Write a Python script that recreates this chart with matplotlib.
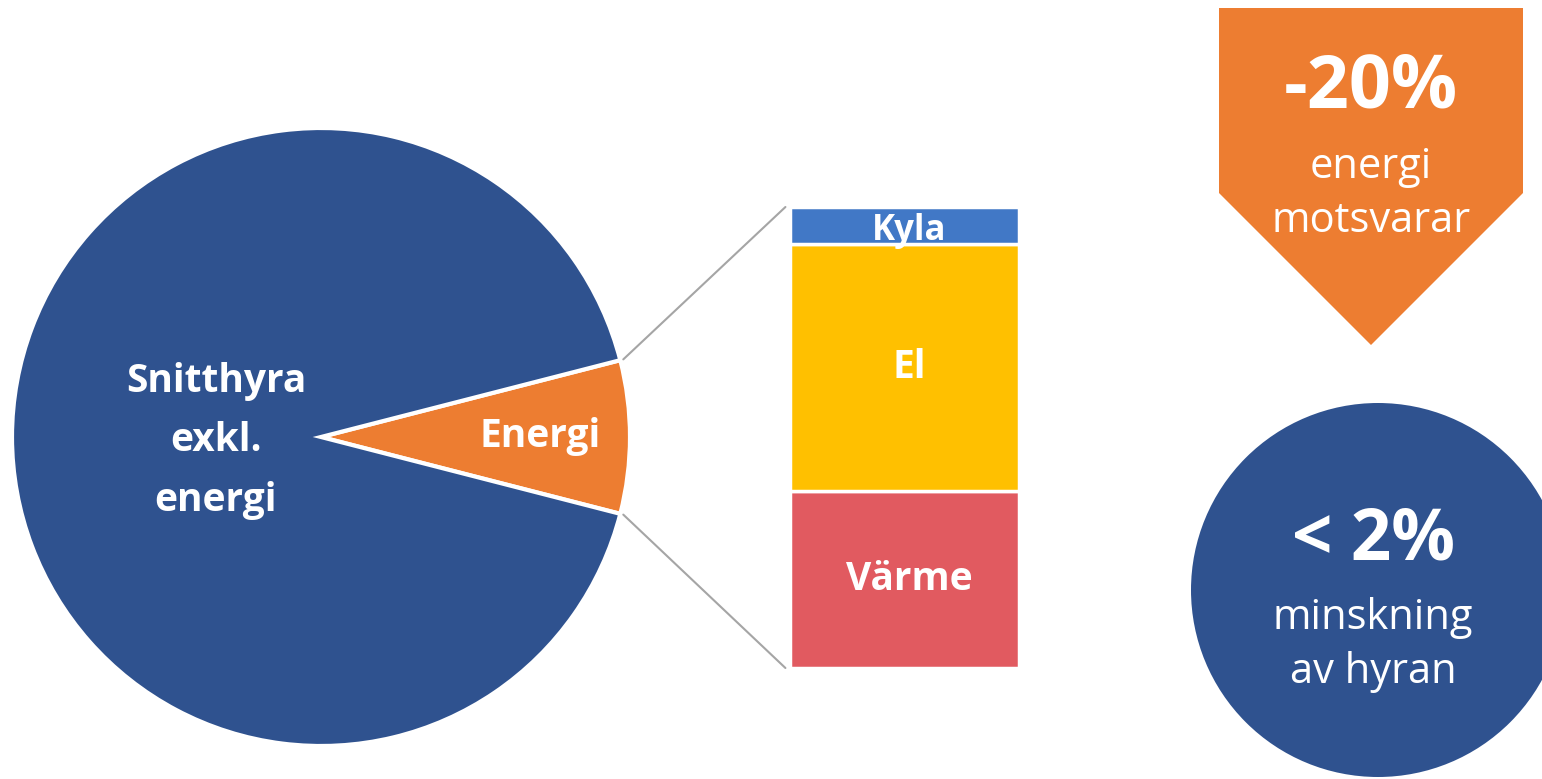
import matplotlib.pyplot as plt
from matplotlib.patches import Polygon, Circle, ConnectionPatch
import numpy as np

plt.rcParams['font.family'] = ['Open Sans', 'DejaVu Sans']

# pie: rent excl. energy vs energy (share in %)
pie_labels = ['Energi', 'Snitthyra\nexkl.\nenergi']
pie_values = [8, 92]
pie_colors = ['#ED7D31', '#2F528F']

# bar breaking the energy share down (%)
bar_labels = ['Värme', 'El', 'Kyla']
bar_values = [38.5, 53.5, 8.0]
bar_colors = ['#E15A60', '#FFC000', '#4178C6']

# callouts
arrow_big, arrow_text = '-20%', 'energi\nmotsvarar'
circle_big, circle_text = '< 2%', 'minskning\nav hyran'

W, H = 1542, 779
fig = plt.figure(figsize=(W / 100, H / 100), dpi=100)


def px_rect(x0, y0, x1, y1):
	"""Pixel box (top-left origin) to figure fraction rect."""
	return [x0 / W, 1 - y1 / H, (x1 - x0) / W, (y1 - y0) / H]


# background layer in pixel coordinates for the callout shapes
ax_bg = fig.add_axes([0, 0, 1, 1])
ax_bg.set_xlim(0, W)
ax_bg.set_ylim(H, 0)
ax_bg.axis('off')

ax_bg.add_patch(Polygon([(1219, 8), (1523, 8), (1523, 193), (1371, 345), (1219, 193)],
						closed=True, facecolor='#ED7D31', edgecolor='none'))
ax_bg.text(1371, 88, arrow_big, ha='center', va='center', color='white',
		   fontsize=53, fontweight='bold')
ax_bg.text(1371, 194, arrow_text, ha='center', va='center', color='white',
		   fontsize=30, linespacing=1.4)

ax_bg.add_patch(Circle((1378, 590), 187, facecolor='#2F528F', edgecolor='none'))
ax_bg.text(1373, 541, circle_big, ha='center', va='center', color='white',
		   fontsize=51, fontweight='bold')
ax_bg.text(1373, 645, circle_text, ha='center', va='center', color='white',
		   fontsize=30, linespacing=1.4)

# pie
ax_pie = fig.add_axes(px_rect(12, 128, 630, 746))
half = pie_values[0] / sum(pie_values) * 180
wedges, _ = ax_pie.pie(pie_values, colors=pie_colors, startangle=-half, radius=1,
					   wedgeprops=dict(edgecolor='white', linewidth=3))
ax_pie.set_xlim(-1, 1)
ax_pie.set_ylim(-1, 1)
ax_pie.axis('off')
ax_pie.text(0.71, 0, pie_labels[0], ha='center', va='center', color='white',
			fontsize=28, fontweight='bold')
ax_pie.text(-0.34, -0.012, pie_labels[1], ha='center', va='center', color='white',
			fontsize=28, fontweight='bold', linespacing=1.68)

# stacked bar
ax_bar = fig.add_axes(px_rect(790, 207, 1019, 668))
bottom = 0
for lab, val, col in zip(bar_labels, bar_values, bar_colors):
	ax_bar.bar(0, val, width=1, bottom=bottom, color=col, edgecolor='white', linewidth=2.5)
	kyla = lab == 'Kyla'
	ax_bar.text(0.02, bottom + val / 2 + (-1.2 if kyla else 0), lab,
				ha='center', va='center', color='white',
				fontsize=25 if kyla else 28, fontweight='bold')
	bottom += val
ax_bar.set_xlim(-0.5, 0.5)
ax_bar.set_ylim(0, sum(bar_values))
ax_bar.axis('off')

# connector lines from the energy wedge to the bar
a = np.deg2rad(half)
for sign, yb in [(1, 1), (-1, 0)]:
	con = ConnectionPatch(xyA=(1.01 * np.cos(a), sign * 1.01 * np.sin(a)), coordsA=ax_pie.transData,
						  xyB=(-0.02, yb), coordsB=ax_bar.transAxes,
						  color='#A5A5A5', linewidth=1.5)
	fig.add_artist(con)

fig.savefig('out.png', dpi=100)
